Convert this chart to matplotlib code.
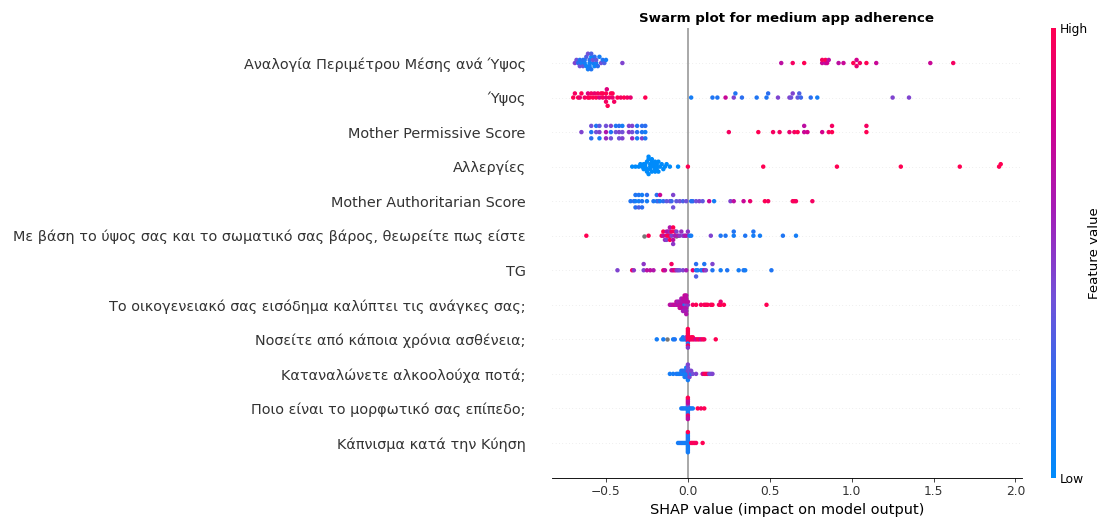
import numpy as np
import matplotlib
matplotlib.use("Agg")
import matplotlib.pyplot as plt
from matplotlib.colors import LinearSegmentedColormap
from matplotlib.cm import ScalarMappable

nan = float("nan")

# feature names, top row first
features = [
    "Αναλογία Περιμέτρου Μέσης ανά Ύψος",
    "Ύψος",
    "Mother Permissive Score",
    "Αλλεργίες",
    "Mother Authoritarian Score",
    "Με βάση το ύψος σας και το σωματικό σας βάρος, θεωρείτε πως είστε",
    "TG",
    "Το οικογενειακό σας εισόδημα καλύπτει τις ανάγκες σας;",
    "Νοσείτε από κάποια χρόνια ασθένεια;",
    "Καταναλώνετε αλκοολούχα ποτά;",
    "Ποιο είναι το μορφωτικό σας επίπεδο;",
    "Κάπνισμα κατά την Κύηση",
]

# SHAP values and (normalised) feature values per feature
ratio_shap = [-0.69, -0.68, -0.67, -0.66, -0.66, -0.65, -0.64, -0.64, -0.63, -0.63, -0.62, -0.62,
              -0.61, -0.61, -0.60, -0.60, -0.60, -0.59, -0.59, -0.59, -0.58, -0.58, -0.57, -0.57,
              -0.56, -0.56, -0.55, -0.54, -0.53, -0.52, -0.51, -0.50, -0.40,
              0.57, 0.64, 0.71, 0.82, 0.82, 0.84, 0.84, 0.85, 0.86, 0.92, 0.95, 1.01, 1.03, 1.03,
              1.05, 1.09, 1.15, 1.48, 1.62]
ratio_val = [0.45, 0.40, 0.20, 0.15, 0.40, 0.10, 0.20, 0.35, 0.10, 0.15, 0.05, 0.30,
             0.10, 0.40, 0.05, 0.20, 0.10, 0.00, 0.15, 0.30, 0.10, 0.40, 0.05, 0.20,
             0.10, 0.35, 0.20, 0.10, 0.40, 0.15, 0.30, 0.10, 0.45,
             0.70, 0.95, 1.00, 0.75, 0.95, 0.70, 1.00, 0.80, 0.70, 0.70, 0.75, 1.00, 0.80, 0.90,
             0.95, 1.00, 0.75, 0.75, 0.95]

height_shap = [-0.70, -0.69, -0.67, -0.66, -0.65, -0.63, -0.61, -0.61, -0.60, -0.59, -0.58, -0.57,
               -0.56, -0.55, -0.54, -0.53, -0.52, -0.52, -0.50, -0.50, -0.50, -0.495, -0.49, -0.48,
               -0.47, -0.46, -0.46, -0.45, -0.43, -0.41, -0.39, -0.37, -0.35, -0.26,
               0.02, 0.15, 0.18, 0.23, 0.28, 0.29, 0.33, 0.42, 0.48, 0.49, 0.55, 0.62, 0.63, 0.64,
               0.67, 0.68, 0.69, 0.75, 0.79, 1.25, 1.35]
height_val = [1.00, 0.95, 1.00, 0.90, 1.00, 0.95, 1.00, 0.85, 1.00, 0.95, 1.00, 0.90,
              1.00, 0.95, 0.85, 1.00, 0.95, 1.00, 0.90, 1.00, 0.95, 0.85, 1.00, 0.95,
              1.00, 0.90, 1.00, 0.95, 1.00, 0.95, 1.00, 0.95, 0.90, 1.00,
              0.10, 0.15, 0.15, 0.75, 0.45, 0.15, 0.20, 0.15, 0.15, 0.20, 0.45, 0.45, 0.40, 0.45,
              0.35, 0.30, 0.25, 0.20, 0.10, 0.45, 0.45]

permissive_shap = [-0.65, -0.59, -0.59, -0.59, -0.56, -0.56, -0.54, -0.54, -0.54, -0.50, -0.50, -0.50,
                   -0.47, -0.47, -0.47, -0.44, -0.44, -0.42, -0.42, -0.42, -0.40, -0.40, -0.40,
                   -0.36, -0.36, -0.34, -0.34, -0.34, -0.31, -0.31, -0.31, -0.28, -0.28, -0.28,
                   -0.26, -0.26, -0.26,
                   0.25, 0.43, 0.52, 0.56, 0.62, 0.65, 0.67, 0.71, 0.71, 0.73, 0.82, 0.86, 0.88,
                   0.88, 1.09, 1.09]
permissive_val = [0.45, 0.15, 0.40, 0.20, 0.40, 0.15, 0.45, 0.35, 0.10, 0.65, 0.40, 0.55,
                  0.15, 0.45, 0.40, 0.40, 0.15, 0.45, 0.20, 0.40, 0.40, 0.10, 0.45,
                  0.50, 0.45, 0.40, 0.45, 0.55, 0.20, 0.15, 0.10, 0.15, 0.20, 0.45,
                  0.10, 0.20, 0.15,
                  0.95, 1.00, 0.95, 0.95, 0.90, 0.95, 1.00, 0.75, 0.70, 0.80, 0.80, 0.95, 1.00,
                  0.95, 1.00, 0.95]

allergy_shap = [-0.34, -0.32, -0.30, -0.29, -0.28, -0.27, -0.27, -0.26, -0.26, -0.25, -0.25, -0.25,
                -0.24, -0.24, -0.24, -0.23, -0.23, -0.23, -0.22, -0.22, -0.22, -0.21, -0.21,
                -0.20, -0.20, -0.20, -0.19, -0.19, -0.19, -0.18, -0.18, -0.17, -0.16, -0.15,
                -0.14, -0.13, -0.11, -0.06,
                0.0, 0.46, 0.91, 1.30, 1.66, 1.90, 1.91]
allergy_val = [0.0] * 38 + [1.0] * 7

authoritarian_shap = [-0.35, -0.33, -0.32, -0.32, -0.32, -0.30, -0.30, -0.30, -0.28, -0.28, -0.28,
                      -0.25, -0.25, -0.21, -0.19, -0.19, -0.18, -0.17, -0.17, -0.15, -0.13, -0.11,
                      -0.10, -0.09, -0.09, -0.07, -0.05, -0.03, -0.01,
                      0.02, 0.03, 0.05, 0.07, 0.09, 0.13, 0.16, 0.26, 0.28, 0.34, 0.38, 0.47, 0.49,
                      0.64, 0.65, 0.66, 0.76]
authoritarian_val = [0.15, 0.20, 0.10, 0.15, 0.20, 0.10, 0.15, 0.30, 0.15, 0.10, 0.20,
                     0.10, 0.20, 0.15, 0.10, 0.20, 0.30, 0.10, 0.75, 0.20, 0.35, 0.40,
                     0.25, 0.45, 0.40, 0.35, 0.40, 0.30, 0.40,
                     0.15, 0.20, 0.40, 0.45, 0.35, 0.75, 0.10, 0.45, 0.70, 0.75, 0.90, 1.00, 0.95,
                     0.95, 1.00, 0.95, 0.95]

body_shap = [-0.62, -0.27, -0.24,
             -0.16, -0.15, -0.15, -0.14, -0.13, -0.13, -0.13, -0.12, -0.12, -0.11, -0.11, -0.11,
             -0.11, -0.10, -0.10, -0.09, -0.09, -0.09, -0.08, -0.08, -0.07, -0.07, -0.06, -0.05,
             -0.04, -0.03, -0.02, -0.01, 0.0, 0.01, 0.02,
             0.14, 0.20, 0.23, 0.28, 0.28, 0.35, 0.40, 0.40, 0.44, 0.58, 0.66]
body_val = [1.00, nan, 1.00,
            0.95, 0.70, 1.00, 0.55, 0.95, 0.65, 0.45, 1.00, 0.70, 0.95, 0.55, 1.00,
            0.65, 0.45, 0.95, 0.70, 1.00, 0.50, 0.60, 0.95, nan, 0.45, 0.65, 0.50,
            0.55, 0.45, 0.60, 0.65, 0.50, 0.15, 0.10,
            0.45, 0.15, 0.15, 0.10, 0.15, 0.15, 0.10, 0.15, 0.10, 0.15, 0.10]

tg_shap = [-0.43, -0.34, -0.33, -0.27, -0.27, -0.25, -0.23, -0.21, -0.15, -0.14, -0.10, -0.10,
           -0.09, -0.08, -0.07, -0.06, -0.05, -0.03, -0.01, 0.03, 0.05, 0.05, 0.05, 0.06,
           0.08, 0.09, 0.10, 0.10, 0.11, 0.15, 0.15, 0.20, 0.24, 0.31, 0.34, 0.35, 0.51]
tg_val = [0.45, 0.95, 0.50, 0.45, 0.50, 0.70, 0.70, 0.65, 0.90, 0.70, 0.70, 0.95,
          0.75, 0.90, 0.50, 0.45, 0.40, 0.45, 0.60, 0.90, 0.15, 0.20, 0.30, 0.10,
          0.15, 0.10, 0.70, 0.15, 0.45, 0.15, 0.45, 0.10, 0.15, 0.10, 0.15, 0.10, 0.15]

income_shap = [-0.11, -0.10, -0.09, -0.08, -0.07, -0.07, -0.06, -0.06, -0.05, -0.05, -0.05,
               -0.04, -0.04, -0.04, -0.04, -0.03, -0.03, -0.03, -0.03, -0.03, -0.02, -0.02,
               -0.02, -0.02, -0.02, -0.02, -0.01, -0.01, -0.01, -0.01, -0.01, -0.01, -0.01,
               0.0, 0.0,
               0.03, 0.05, 0.08, 0.10, 0.11, 0.12, 0.14, 0.15, 0.19, 0.20, 0.20, 0.22, 0.48]
income_val = [0.70, 0.65, 0.70, 0.75, 0.65, 0.70, 0.70, 0.60, 0.70, 0.65, 0.75,
              0.70, 0.65, 0.70, 0.60, 0.70, 0.65, 0.75, 0.70, 0.60, 0.10, 0.70,
              0.65, 0.70, 0.60, 0.75, 0.40, 0.70, 0.65, 0.70, 0.60, 0.70, 0.65,
              0.50, 0.70,
              0.95, 1.00, 0.95, 1.00, 0.95, 1.00, 0.95, 1.00, 0.95, 1.00, 0.90, 1.00, 1.00]

illness_shap = [-0.19, -0.15, -0.13, -0.09, -0.08, -0.04, -0.03, -0.03, -0.02, -0.01, -0.01,
                0.0, 0.0, 0.0, 0.0, 0.0, 0.0, 0.0, 0.0, 0.0, 0.0,
                0.01, 0.02, 0.02, 0.03, 0.03, 0.04, 0.05, 0.06, 0.07, 0.08, 0.09, 0.10, 0.17]
illness_val = [0.10, 0.10, nan, 0.10, 0.15, 0.10, 0.10, 0.15, 0.10, 0.15, 0.40,
               1.00, 1.00, 0.95, 1.00, 0.10, 1.00, 0.95, 1.00, 0.50, 1.00,
               1.00, 0.95, 1.00, 0.95, 1.00, 0.95, 0.75, 1.00, 0.95, 0.75, 1.00, 0.95, 1.00]

alcohol_shap = [-0.11, -0.09, -0.07, -0.06, -0.05, -0.04, -0.04, -0.03, -0.03, -0.02, -0.02, -0.02,
                -0.01, -0.01, -0.01, -0.01, 0.0, 0.0, 0.0, 0.0, 0.0, 0.0, 0.01, 0.01, 0.01,
                0.02, 0.02, 0.03, 0.05, 0.09, 0.10, 0.11, 0.12, 0.13, 0.14, 0.15]
alcohol_val = [0.10, 0.10, 0.15, 0.10, 0.10, 0.15, 0.10, 0.10, 0.20, 0.10, 0.15, 0.10,
               0.10, 0.20, 0.15, 0.10, 0.10, 0.45, 0.15, 0.40, 0.10, 0.45, 0.45, 0.40, 0.45,
               0.15, 0.45, 0.40, 0.45, 0.70, 0.95, 1.00, 0.95, 0.45, 0.40, 0.45]

education_shap = [-0.04, -0.03, -0.02, -0.01,
                  0.0, 0.0, 0.0, 0.0, 0.0, 0.0, 0.0, 0.0, 0.0, 0.0, 0.0, 0.0, 0.0,
                  0.01, 0.02, 0.03, 0.06, 0.08, 0.10]
education_val = [0.10, 0.15, 0.10, 0.10,
                 0.10, 0.10, 0.15, 0.40, 0.10, 0.70, 0.15, 0.75, 0.95, 0.70, 0.75, 1.00, 0.70,
                 0.10, 0.15, 0.10, 1.00, 0.95, 1.00]

smoking_shap = [-0.06, -0.05, -0.04, -0.03, -0.02, -0.01,
                0.0, 0.0, 0.0, 0.0, 0.0, 0.0, 0.0, 0.0, 0.0, 0.0, 0.0, 0.0, 0.0, 0.0,
                0.02, 0.03, 0.04, 0.05, 0.09]
smoking_val = [0.10, 0.10, 0.15, 0.10, 0.10, 0.10,
               0.10, 0.10, 0.10, 0.15, 0.10, 0.10, 0.10, 0.15, 0.10, 0.10, 0.10, 0.10, 0.10, 1.00,
               1.00, 0.95, 1.00, 0.95, 1.00]

shap_rows = [ratio_shap, height_shap, permissive_shap, allergy_shap, authoritarian_shap, body_shap,
             tg_shap, income_shap, illness_shap, alcohol_shap, education_shap, smoking_shap]
value_rows = [ratio_val, height_val, permissive_val, allergy_val, authoritarian_val, body_val,
              tg_val, income_val, illness_val, alcohol_val, education_val, smoking_val]

red_blue = LinearSegmentedColormap.from_list(
    "red_blue", ["#008bfb", "#2a6ef0", "#7251d8", "#a51cb6", "#d3008c", "#ff0052"])


def swarm_offsets(vals, row_height=0.4, nbins=100):
    # same stacking as shap's beeswarm: bin the values, pile points up/down in each bin
    vals = np.asarray(vals)
    quant = np.round(nbins * (vals - vals.min()) / (vals.max() - vals.min() + 1e-8))
    inds = np.argsort(quant, kind="stable")
    ys = np.zeros(len(vals))
    layer, last_bin = 0, -1
    for i in inds:
        if quant[i] != last_bin:
            layer = 0
        ys[i] = np.ceil(layer / 2) * ((layer % 2) * 2 - 1)
        layer += 1
        last_bin = quant[i]
    ys *= 0.9 * (row_height / np.max(ys + 1))
    return ys


fig = plt.figure(figsize=(1105 / 80, 517 / 80), dpi=80)
ax = fig.add_axes([0.4995, 0.0764, 0.4254, 0.8685])
cax = fig.add_axes([0.9511, 0.0764, 0.0045, 0.8685])

ax.axvline(0, color="#999999", zorder=-1)
n = len(features)
for i, (sv, fv) in enumerate(zip(shap_rows, value_rows)):
    pos = n - 1 - i
    sv = np.array(sv)
    fv = np.array(fv, dtype=float)
    ax.axhline(pos, color="#cccccc", lw=0.5, dashes=(1, 5), zorder=-1)
    ys = pos + swarm_offsets(sv)
    miss = np.isnan(fv)
    ax.scatter(sv[miss], ys[miss], color="#777777", s=16, linewidth=0, zorder=3)
    ax.scatter(sv[~miss], ys[~miss], c=fv[~miss], cmap=red_blue, vmin=0, vmax=1,
               s=16, linewidth=0, zorder=3)

ax.set_yticks(range(n))
ax.set_yticklabels(features[::-1], fontsize=12.9)
ax.set_ylim(-1, n)
ax.set_xlim(-0.83, 2.04)
for side in ["right", "top", "left"]:
    ax.spines[side].set_visible(False)
ax.tick_params(color="#333333", labelcolor="#333333")
ax.tick_params("y", length=0, pad=23.5)
ax.tick_params("x", labelsize=11)
ax.set_xlabel("SHAP value (impact on model output)", fontsize=13)
ax.set_title("Swarm plot for medium app adherence", fontweight="bold", fontsize=12)

sm = ScalarMappable(cmap=red_blue)
sm.set_array([0, 1])
cb = fig.colorbar(sm, cax=cax, ticks=[0, 1])
cb.set_ticklabels(["Low", "High"])
cb.set_label("Feature value", size=12, labelpad=0)
cb.ax.tick_params(labelsize=11, length=0)
cb.outline.set_visible(False)

fig.savefig("out.png", dpi=80)
